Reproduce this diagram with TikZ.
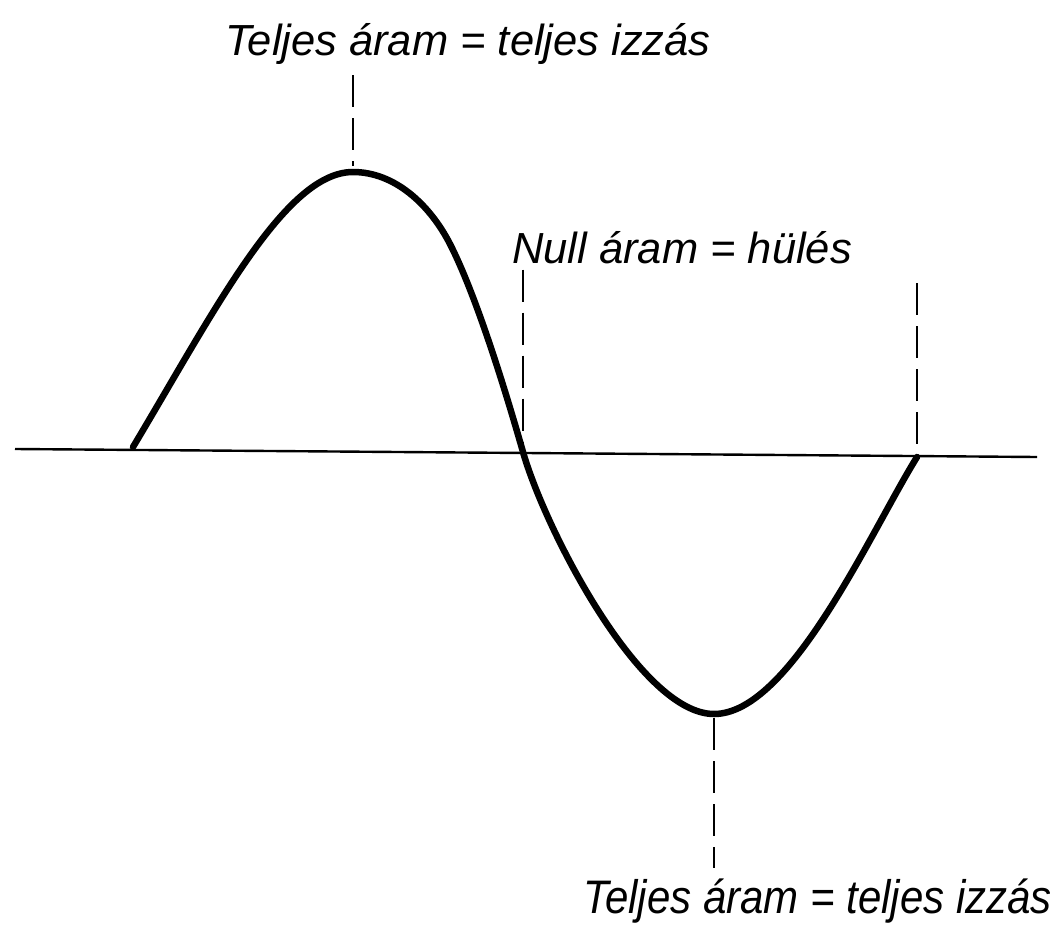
\documentclass[tikz,border=0pt]{standalone}
\usepackage{fontspec}
\setmainfont{Liberation Sans}
\begin{document}
\begin{tikzpicture}[x=1pt,y=-1pt,
  wave/.style={line width=6.5pt,line cap=round,line join=round},
  axisline/.style={line width=2.4pt},
  guide/.style={line width=2pt,dash pattern=on 32pt off 11pt},
  lbl/.style={inner sep=0pt,font=\fontsize{43.5}{46}\selectfont\itshape}]
\useasboundingbox (0,0) rectangle (1050,926);
% axis
\coordinate (axL) at (15,449);
\coordinate (axR) at (1037,457);
\draw[axisline] (axL) -- (axR);
% key points
\coordinate (st) at (133,447);
\coordinate (pk) at (353,172);
\coordinate (z0) at (523,452);
\coordinate (tr) at (714,714);
\coordinate (en) at (917,457);
% wave
\draw[wave] (st) .. controls (215,310) and (285,172) .. (pk)
  .. controls (395,172) and (430,205) .. (450,244)
  .. controls (475,293) and (503,382) .. (z0)
  .. controls (545,529) and (640,714) .. (tr)
  .. controls (790,714) and (870,533) .. (en);
% labels
\node[lbl,anchor=base west] (t1) at (225,55) {Teljes áram = teljes izzás};
\node[lbl,anchor=base west] (t2) at (512,263) {Null áram = hülés};
\node[lbl,anchor=base west,font=\fontsize{42}{46}\selectfont\itshape,yscale=1.12] (t3) at (583,913) {Teljes áram = teljes izzás};
% guides
\draw[guide,shorten <=11pt,shorten >=6pt] (t1.south -| pk) -- (pk);
\draw[guide,shorten <=6pt] (t2.south -| z0) -- (z0);
\coordinate (rt) at (917,283);
\draw[guide] (rt) -- (en);
\draw[guide,shorten >=10pt,shorten <=4pt] (tr) -- (tr |- t3.north);
\end{tikzpicture}
\end{document}
